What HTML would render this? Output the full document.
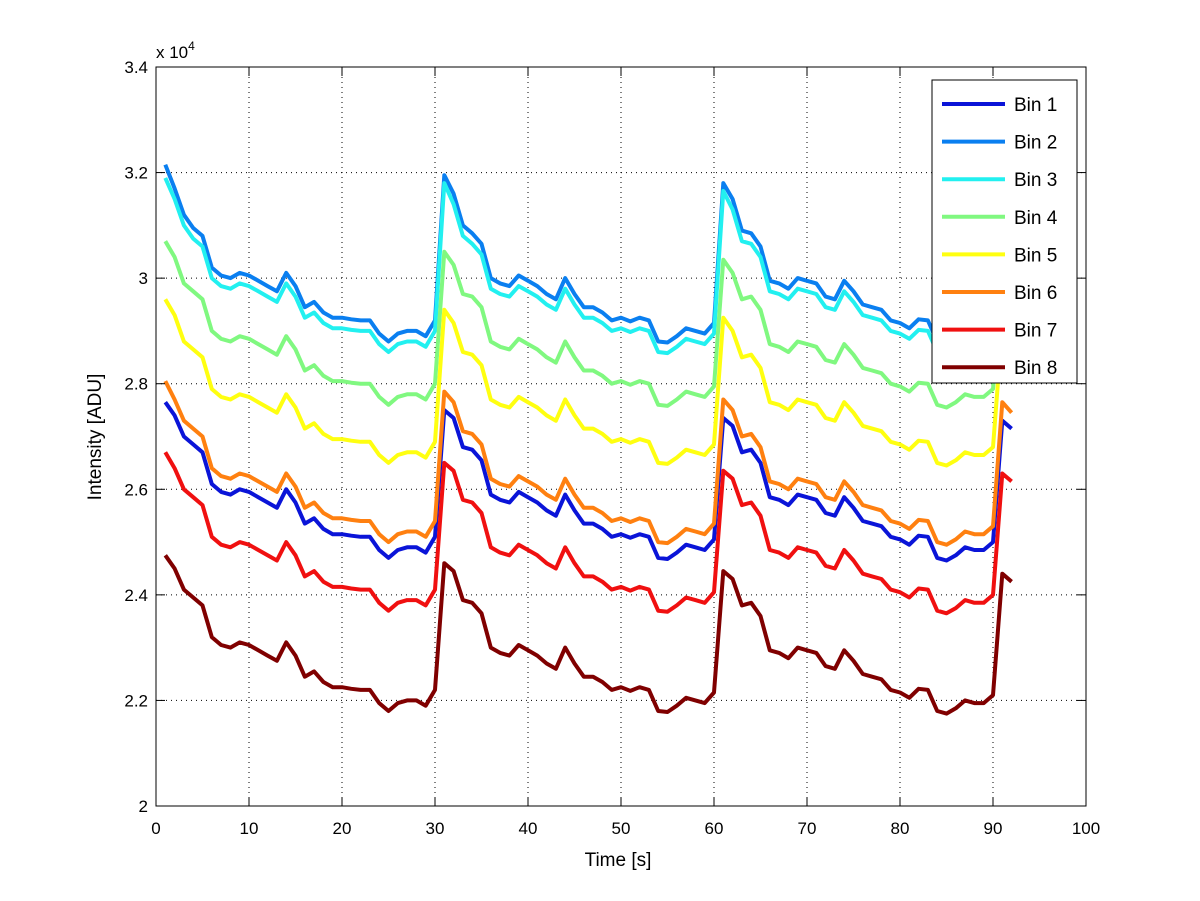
<!DOCTYPE html>
<html><head><meta charset="utf-8"><style>
html,body{margin:0;padding:0;background:#fff}
svg{display:block;font-family:"Liberation Sans",sans-serif}
</style></head><body>
<svg id="chart" width="1200" height="901" viewBox="0 0 1200 901">
<rect x="0" y="0" width="1200" height="901" fill="#fff"/>
<g id="grid"></g>
<g id="series"></g>
<rect x="156" y="67" width="930" height="739" fill="none" stroke="#000" stroke-width="1"/>
<g id="ticks"></g>
<text x="156" y="58" font-size="17">x 10<tspan dy="-8" font-size="12">4</tspan></text>
<text x="618" y="866" font-size="19" text-anchor="middle">Time [s]</text>
<text transform="translate(101,437) rotate(-90)" font-size="19" text-anchor="middle">Intensity [ADU]</text>
<g id="legend"></g>
</svg>
<script>
const xTicks=[0,10,20,30,40,50,60,70,80,90,100];
const yTicks=[2.0,2.2,2.4,2.6,2.8,3.0,3.2,3.4];
const yTickLabels=["2","2.2","2.4","2.6","2.8","3","3.2","3.4"];
const seriesNames=["Bin 1","Bin 2","Bin 3","Bin 4","Bin 5","Bin 6","Bin 7","Bin 8"];
const seriesColors=["#0a14d8","#0a7ff0","#22f0f0","#80f880","#ffff10","#ff8010","#f01010","#800000"];
const bin1=[2.765,2.74,2.70,2.685,2.67,2.61,2.595,2.59,2.60,2.595,2.585,2.575,2.565,2.60,2.575,2.535,2.545,2.525,2.515,2.515,2.512,2.51,2.51,2.485,2.47,2.485,2.49,2.49,2.48,2.51,2.75,2.735,2.68,2.675,2.655,2.59,2.58,2.575,2.595,2.585,2.575,2.56,2.55,2.59,2.56,2.535,2.535,2.525,2.51,2.515,2.508,2.515,2.51,2.47,2.468,2.48,2.495,2.49,2.485,2.505,2.735,2.72,2.67,2.675,2.65,2.585,2.58,2.57,2.59,2.585,2.58,2.555,2.55,2.585,2.565,2.54,2.535,2.53,2.51,2.505,2.495,2.512,2.51,2.47,2.465,2.475,2.49,2.485,2.485,2.50,2.73,2.715];
const bin2=[3.215,3.17,3.12,3.095,3.08,3.02,3.005,3.00,3.01,3.005,2.995,2.985,2.975,3.01,2.985,2.945,2.955,2.935,2.925,2.925,2.922,2.92,2.92,2.895,2.88,2.895,2.90,2.90,2.89,2.92,3.195,3.16,3.10,3.085,3.065,3.00,2.99,2.985,3.005,2.995,2.985,2.97,2.96,3.00,2.97,2.945,2.945,2.935,2.92,2.925,2.918,2.925,2.92,2.88,2.878,2.89,2.905,2.90,2.895,2.915,3.18,3.15,3.09,3.085,3.06,2.995,2.99,2.98,3.00,2.995,2.99,2.965,2.96,2.995,2.975,2.95,2.945,2.94,2.92,2.915,2.905,2.922,2.92,2.88,2.875,2.885,2.90,2.895,2.895,2.91,3.14,3.125];
const bin3=[3.19,3.15,3.10,3.075,3.06,3.00,2.985,2.98,2.99,2.985,2.975,2.965,2.955,2.99,2.965,2.925,2.935,2.915,2.905,2.905,2.902,2.90,2.90,2.875,2.86,2.875,2.88,2.88,2.87,2.90,3.18,3.14,3.08,3.065,3.045,2.98,2.97,2.965,2.985,2.975,2.965,2.95,2.94,2.98,2.95,2.925,2.925,2.915,2.90,2.905,2.898,2.905,2.90,2.86,2.858,2.87,2.885,2.88,2.875,2.895,3.165,3.13,3.07,3.065,3.04,2.975,2.97,2.96,2.98,2.975,2.97,2.945,2.94,2.975,2.955,2.93,2.925,2.92,2.90,2.895,2.885,2.902,2.90,2.86,2.855,2.865,2.88,2.875,2.875,2.89,3.12,3.105];
const bin4=[3.07,3.04,2.99,2.975,2.96,2.90,2.885,2.88,2.89,2.885,2.875,2.865,2.855,2.89,2.865,2.825,2.835,2.815,2.805,2.805,2.802,2.80,2.80,2.775,2.76,2.775,2.78,2.78,2.77,2.80,3.05,3.025,2.97,2.965,2.945,2.88,2.87,2.865,2.885,2.875,2.865,2.85,2.84,2.88,2.85,2.825,2.825,2.815,2.80,2.805,2.798,2.805,2.80,2.76,2.758,2.77,2.785,2.78,2.775,2.795,3.035,3.01,2.96,2.965,2.94,2.875,2.87,2.86,2.88,2.875,2.87,2.845,2.84,2.875,2.855,2.83,2.825,2.82,2.80,2.795,2.785,2.802,2.80,2.76,2.755,2.765,2.78,2.775,2.775,2.79,3.02,3.005];
const bin5=[2.96,2.93,2.88,2.865,2.85,2.79,2.775,2.77,2.78,2.775,2.765,2.755,2.745,2.78,2.755,2.715,2.725,2.705,2.695,2.695,2.692,2.69,2.69,2.665,2.65,2.665,2.67,2.67,2.66,2.69,2.94,2.915,2.86,2.855,2.835,2.77,2.76,2.755,2.775,2.765,2.755,2.74,2.73,2.77,2.74,2.715,2.715,2.705,2.69,2.695,2.688,2.695,2.69,2.65,2.648,2.66,2.675,2.67,2.665,2.685,2.925,2.90,2.85,2.855,2.83,2.765,2.76,2.75,2.77,2.765,2.76,2.735,2.73,2.765,2.745,2.72,2.715,2.71,2.69,2.685,2.675,2.692,2.69,2.65,2.645,2.655,2.67,2.665,2.665,2.68,2.91,2.895];
const bin6=[2.805,2.77,2.73,2.715,2.70,2.64,2.625,2.62,2.63,2.625,2.615,2.605,2.595,2.63,2.605,2.565,2.575,2.555,2.545,2.545,2.542,2.54,2.54,2.515,2.50,2.515,2.52,2.52,2.51,2.54,2.785,2.765,2.71,2.705,2.685,2.62,2.61,2.605,2.625,2.615,2.605,2.59,2.58,2.62,2.59,2.565,2.565,2.555,2.54,2.545,2.538,2.545,2.54,2.50,2.498,2.51,2.525,2.52,2.515,2.535,2.77,2.75,2.70,2.705,2.68,2.615,2.61,2.60,2.62,2.615,2.61,2.585,2.58,2.615,2.595,2.57,2.565,2.56,2.54,2.535,2.525,2.542,2.54,2.50,2.495,2.505,2.52,2.515,2.515,2.53,2.765,2.745];
const bin7=[2.67,2.64,2.60,2.585,2.57,2.51,2.495,2.49,2.50,2.495,2.485,2.475,2.465,2.50,2.475,2.435,2.445,2.425,2.415,2.415,2.412,2.41,2.41,2.385,2.37,2.385,2.39,2.39,2.38,2.41,2.65,2.635,2.58,2.575,2.555,2.49,2.48,2.475,2.495,2.485,2.475,2.46,2.45,2.49,2.46,2.435,2.435,2.425,2.41,2.415,2.408,2.415,2.41,2.37,2.368,2.38,2.395,2.39,2.385,2.405,2.635,2.62,2.57,2.575,2.55,2.485,2.48,2.47,2.49,2.485,2.48,2.455,2.45,2.485,2.465,2.44,2.435,2.43,2.41,2.405,2.395,2.412,2.41,2.37,2.365,2.375,2.39,2.385,2.385,2.40,2.63,2.615];
const bin8=[2.475,2.45,2.41,2.395,2.38,2.32,2.305,2.30,2.31,2.305,2.295,2.285,2.275,2.31,2.285,2.245,2.255,2.235,2.225,2.225,2.222,2.22,2.22,2.195,2.18,2.195,2.20,2.20,2.19,2.22,2.46,2.445,2.39,2.385,2.365,2.30,2.29,2.285,2.305,2.295,2.285,2.27,2.26,2.30,2.27,2.245,2.245,2.235,2.22,2.225,2.218,2.225,2.22,2.18,2.178,2.19,2.205,2.20,2.195,2.215,2.445,2.43,2.38,2.385,2.36,2.295,2.29,2.28,2.30,2.295,2.29,2.265,2.26,2.295,2.275,2.25,2.245,2.24,2.22,2.215,2.205,2.222,2.22,2.18,2.175,2.185,2.20,2.195,2.195,2.21,2.44,2.425];
const allSeries=[bin1,bin2,bin3,bin4,bin5,bin6,bin7,bin8];

const NS="http://www.w3.org/2000/svg";
const X0=156,X1=1086,Y0=806,Y1=67;
function xs(v){return X0+(v-0)/(100-0)*(X1-X0);}
function ys(v){return Y0-(v-2.0)/(3.4-2.0)*(Y0-Y1);}
function mk(tag,attrs,parent){const e=document.createElementNS(NS,tag);for(const k in attrs)e.setAttribute(k,attrs[k]);parent.appendChild(e);return e;}
const grid=document.getElementById('grid'),ticks=document.getElementById('ticks');
xTicks.forEach((t,i)=>{
  const x=xs(t);
  if(i>0&&i<xTicks.length-1){const g=mk('line',{x1:x,x2:x,y1:Y1,y2:Y0,stroke:'#000','stroke-width':1,'stroke-dasharray':'1,4'},grid);
  
  }
  const a=mk('line',{x1:x,x2:x,y1:Y0,y2:Y0-9,stroke:'#000'},ticks);
  
  
  const b=mk('line',{x1:x,x2:x,y1:Y1,y2:Y1+9,stroke:'#000'},ticks);
  
  
  const l=mk('text',{x:x,y:834,'font-size':17,'text-anchor':'middle'},ticks);l.textContent=t;
  
  
});
yTicks.forEach((t,i)=>{
  const y=ys(t);
  if(i>0&&i<yTicks.length-1){const g=mk('line',{x1:X0,x2:X1,y1:y,y2:y,stroke:'#000','stroke-width':1,'stroke-dasharray':'1,4'},grid);
  
  }
  const a=mk('line',{x1:X0,x2:X0+9,y1:y,y2:y,stroke:'#000'},ticks);
  
  
  const b=mk('line',{x1:X1,x2:X1-9,y1:y,y2:y,stroke:'#000'},ticks);
  
  
  const l=mk('text',{x:148,y:y+6,'font-size':17,'text-anchor':'end'},ticks);l.textContent=yTickLabels[i];
  
  
});
const sg=document.getElementById('series');
allSeries.forEach((arr,k)=>{
  const pts=arr.map((v,i)=>xs(i+1).toFixed(1)+','+ys(v).toFixed(1)).join(' ');
  const p=mk('polyline',{points:pts,fill:'none',stroke:seriesColors[k],'stroke-width':4,'stroke-linejoin':'round'},sg);
  
  
});
const lg=document.getElementById('legend');
const box=mk('rect',{x:932,y:80,width:145,height:303,fill:'#fff',stroke:'#000'},lg);


seriesNames.forEach((n,k)=>{
  const y=104+k*37.6;
  const ln=mk('line',{x1:942,x2:1005,y1:y,y2:y,stroke:seriesColors[k],'stroke-width':4},lg);
  
  
  const t=mk('text',{x:1014,y:y+7,'font-size':19},lg);t.textContent=n;
  
  
});
</script>
</body></html>
